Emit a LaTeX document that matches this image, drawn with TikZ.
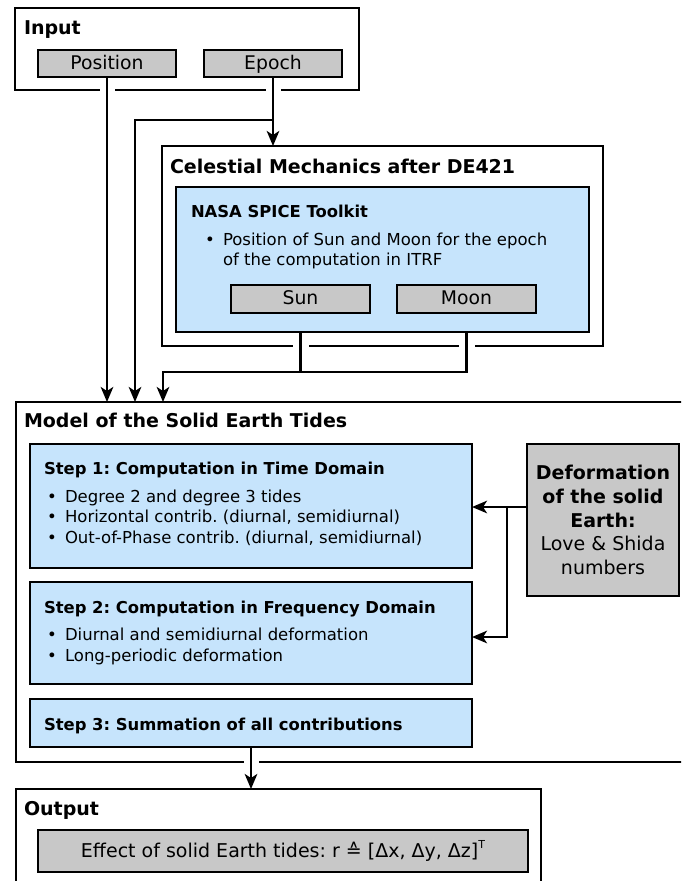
\documentclass[tikz,border=0pt]{standalone}
\usepackage{fontspec}
\setmainfont{DejaVu Sans}
\usetikzlibrary{arrows.meta}
\frenchspacing
\definecolor{boxgray}{RGB}{200,200,200}
\definecolor{boxblue}{RGB}{198,228,252}
\newcommand\ttlfont{\fontsize{19}{23}\selectfont\bfseries}
\newcommand\lblfont{\fontsize{18.8}{23}\selectfont}
\newcommand\hdfont{\fontsize{16.4}{20}\selectfont\bfseries}
\newcommand\bodyfont{\fontsize{16.5}{20}\selectfont}
\tikzset{
  frame/.style={draw=black, line width=2.6pt, inner sep=0pt, outer sep=0pt, fill=white},
  graybox/.style={frame, fill=boxgray, font=\lblfont, text height=14pt, text depth=3pt},
  bluebox/.style={frame, fill=boxblue},
  txt/.style={anchor=base west, inner sep=0pt, outer sep=0pt},
  conn/.style={draw=black, line width=2.6pt, line join=miter, -{Stealth[length=15pt,width=12.5pt,inset=4pt]}},
  plainconn/.style={draw=black, line width=2.6pt, line join=miter},
  gap/.style={fill=white, draw=none}
}
\begin{document}
\frenchspacing
\begin{tikzpicture}[x=1pt, y=-1pt]
\clip (0,0) rectangle (681,881);
\fill[white] (0,0) rectangle (681,881);

% Input
\node[frame, minimum width=344pt, minimum height=82pt] (input) at (187,49) {};
\node[txt, font=\ttlfont] (inputt) at (24,34) {Input};
\node[graybox, minimum width=138pt, minimum height=27pt] (pos) at (107,63.5) {Position};
\node[graybox, minimum width=138pt, minimum height=27pt] (epoch) at (273,63.5) {Epoch};

% Celestial mechanics
\node[frame, minimum width=441pt, minimum height=200pt] (cel) at (382.5,246) {};
\node[txt, font=\ttlfont] (celt) at (170,173) {Celestial Mechanics after DE421};
\node[bluebox, minimum width=413pt, minimum height=145pt] (spice) at (382.5,259.5) {};
\node[txt, font=\hdfont] (spicet) at (191,217) {NASA SPICE Toolkit};
\node[txt, font=\bodyfont] (sb1) at (205,245) {•};
\node[txt, font=\bodyfont] (s1) at (223,245) {Position of Sun and Moon for the epoch};
\node[txt, font=\bodyfont] (s2) at (223,265) {of the computation in ITRF};
\node[graybox, minimum width=139pt, minimum height=28pt] (sun) at (300.5,299) {Sun};
\node[graybox, minimum width=139pt, minimum height=28pt] (moon) at (466.5,299) {Moon};

% Model
\node[frame, minimum width=684pt, minimum height=360pt] (model) at (358,582) {};
\node[txt, font=\ttlfont] (modelt) at (24,427) {Model of the Solid Earth Tides};

\node[bluebox, minimum width=442pt, minimum height=124pt] (step1) at (251,506) {};
\node[txt, font=\hdfont] (st1) at (44,474) {Step 1: Computation in Time Domain};
\node[txt, font=\bodyfont] (b11) at (47,502) {•};
\node[txt, font=\bodyfont] (t11) at (65,502) {Degree 2 and degree 3 tides};
\node[txt, font=\bodyfont] (b12) at (47,522.5) {•};
\node[txt, font=\bodyfont] (t12) at (65,522.5) {Horizontal contrib. (diurnal, semidiurnal)};
\node[txt, font=\bodyfont] (b13) at (47,543) {•};
\node[txt, font=\bodyfont] (t13) at (65,543) {Out-of-Phase contrib. (diurnal, semidiurnal)};

\node[bluebox, minimum width=442pt, minimum height=102pt] (step2) at (251,633) {};
\node[txt, font=\hdfont] (st2) at (44,613) {Step 2: Computation in Frequency Domain};
\node[txt, font=\bodyfont] (b21) at (47,640) {•};
\node[txt, font=\bodyfont] (t21) at (65,640) {Diurnal and semidiurnal deformation};
\node[txt, font=\bodyfont] (b22) at (47,661) {•};
\node[txt, font=\bodyfont] (t22) at (65,661) {Long-periodic deformation};

\node[bluebox, minimum width=442pt, minimum height=48pt] (step3) at (251,723) {};
\node[txt, font=\hdfont] (st3) at (44,730) {Step 3: Summation of all contributions};

\node[frame, fill=boxgray, minimum width=152pt, minimum height=152pt, align=center,
      font=\fontsize{19}{23.7}\selectfont] (def) at (603,520)
  {\textbf{Deformation}\\\textbf{of the solid}\\\textbf{Earth:}\\Love \& Shida\\numbers};

% Output
\node[frame, minimum width=525pt, minimum height=111pt] (output) at (278.5,844.5) {};
\node[txt, font=\ttlfont] (outt) at (24,815) {Output};
\node[graybox, minimum width=490pt, minimum height=42pt, font=\fontsize{19}{23}\selectfont,
      text height=15pt, text depth=3pt] (effect) at (283,851)
  {Effect of solid Earth tides: r ≙ [Δx, Δy, Δz]\raisebox{0.8ex}{\fontsize{11}{11}\selectfont T}};

% line-crossing gaps
\fill[gap] (99.5,86) rectangle (114.5,94);
\fill[gap] (265.5,86) rectangle (280.5,94);
\fill[gap] (293,342) rectangle (308.5,350);
\fill[gap] (459,342) rectangle (474.5,350);
\fill[gap] (243.5,758) rectangle (258.5,766);

% connectors
\coordinate (ebr) at (273,120);
\coordinate (lbr) at (135,120);
\coordinate (jl) at (163,372);
\coordinate (dj) at (507,507);
\coordinate (dk) at (507,637);

\draw[conn] (pos.south) -- (pos.south |- model.north);
\draw[conn] (epoch.south) -- (epoch.south |- cel.north);
\draw[conn] (ebr) -- (lbr) -- (lbr |- model.north);
\draw[plainconn] (sun.south |- spice.south) -- (sun.south |- jl);
\draw[conn] (moon.south |- spice.south) -- (moon.south |- jl) -- (jl) -- (jl |- model.north);
\draw[conn] (def.west |- dj) -- (step1.east |- dj);
\draw[conn] (dj) -- (dk) -- (step2.east |- dk);
\draw[conn] (step3.south) -- (step3.south |- output.north);
\end{tikzpicture}
\end{document}
